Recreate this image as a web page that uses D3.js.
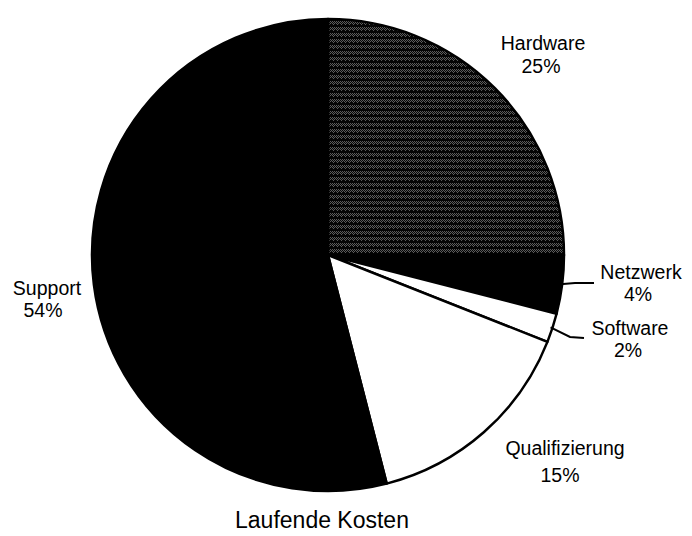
<!DOCTYPE html>
<html>
<head>
<meta charset="utf-8">
<script src="https://cdn.jsdelivr.net/npm/d3@7/dist/d3.min.js"></script>
<style>
  html, body { margin: 0; padding: 0; background: #fff; }
  svg { display: block; }
  text { font-family: "Liberation Sans", Arial, sans-serif; fill: #000; }
</style>
</head>
<body>
<svg id="chart" width="692" height="536"></svg>
<script>
// ---- data ----
const categories = ["Hardware", "Netzwerk", "Software", "Qualifizierung", "Support"];
const values = [25, 4, 2, 15, 54];
const percentLabels = ["25%", "4%", "2%", "15%", "54%"];
const title = "Laufende Kosten";

// ---- styling / layout ----
const fills = ["url(#hatch)", "#000", "#fff", "#fff", "#000"];
const cx = 328, cy = 255, R = 236;
const labelPos = {
  "Hardware":       { x: 543, y: 50,  y2: 73,  x2: 541 },
  "Netzwerk":       { x: 641, y: 279, y2: 301, x2: 638 },
  "Software":       { x: 630, y: 335, y2: 357, x2: 628 },
  "Qualifizierung": { x: 565, y: 455, y2: 482, x2: 560 },
  "Support":        { x: 47,  y: 295, y2: 317, x2: 43 }
};
const leaders = {
  "Netzwerk": [[575, 283], [594, 283]],
  "Software": [[570, 337], [584, 338]]
};

const svg = d3.select("#chart");
const defs = svg.append("defs");
const pat = defs.append("pattern")
  .attr("id", "hatch").attr("patternUnits", "userSpaceOnUse")
  .attr("width", 4).attr("height", 6);
pat.append("rect").attr("width", 4).attr("height", 6).attr("fill", "#050505");
[[0,0],[2,0],[1,1],[3,1],[0,2],[2,2],[1,3]].forEach(([x,y]) =>
  pat.append("rect").attr("x", x).attr("y", y).attr("width", 1).attr("height", 1).attr("fill", "#5c5c5c"));

const data = categories.map((c, i) => ({ name: c, value: values[i], pct: percentLabels[i], fill: fills[i] }));
const pie = d3.pie().value(d => d.value).sort(null);
const arcs = pie(data);
const arc = d3.arc().innerRadius(0).outerRadius(R);

const g = svg.append("g").attr("transform", `translate(${cx},${cy})`);
g.selectAll("path.slice").data(arcs).join("path")
  .attr("class", "slice")
  .attr("d", arc)
  .attr("fill", d => d.data.fill)
  .attr("stroke", "#000")
  .attr("stroke-width", 2.5)
  .attr("stroke-linejoin", "round");

// leader lines
arcs.forEach(a => {
  const L = leaders[a.data.name];
  if (!L) return;
  const mid = (a.startAngle + a.endAngle) / 2;
  const p0 = [cx + (R - 2) * Math.sin(mid), cy - (R - 2) * Math.cos(mid)];
  svg.append("path")
    .attr("d", d3.line()([p0, ...L]))
    .attr("fill", "none").attr("stroke", "#000").attr("stroke-width", 2);
});

// labels
arcs.forEach(a => {
  const p = labelPos[a.data.name];
  svg.append("text").attr("x", p.x).attr("y", p.y)
    .attr("text-anchor", "middle").attr("font-size", 19.5).text(a.data.name);
  svg.append("text").attr("x", p.x2).attr("y", p.y2)
    .attr("text-anchor", "middle").attr("font-size", 19.5).text(a.data.pct);
});

svg.append("text").attr("x", 322).attr("y", 528)
  .attr("text-anchor", "middle").attr("font-size", 23).text(title);
</script>
</body>
</html>
